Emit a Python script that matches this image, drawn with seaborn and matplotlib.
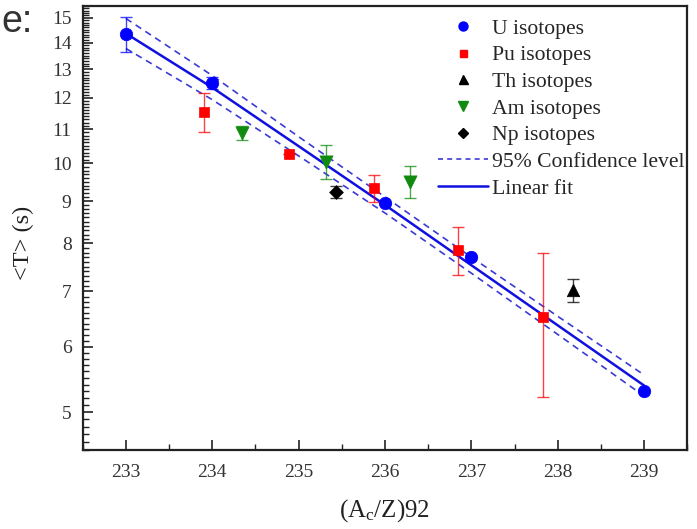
import numpy as np
import pandas as pd
import matplotlib
matplotlib.use("Agg")
import matplotlib.pyplot as plt
import seaborn as sns
from matplotlib.lines import Line2D
from matplotlib.ticker import FixedLocator, NullFormatter, FixedFormatter

# ---- data ----
u_x = [233.0, 234.0, 236.0, 237.0, 239.0]
u_t = [14.35, 12.51, 8.96, 7.71, 5.30]
u_err = [0.70, 0.20, 0.0, 0.0, 0.0]

pu_x = [233.91, 234.89, 235.87, 236.85, 237.83]
pu_t = [11.53, 10.27, 9.33, 7.85, 6.51]
pu_err = [0.62, 0.0, 0.35, 0.53, 1.29]

th_x = [238.18]
th_t = [7.02]
th_err = [0.23]

am_x = [234.35, 235.32, 236.29]
am_t = [10.88, 10.05, 9.50]
am_err = [0.22, 0.48, 0.43]

np_x = [235.43]
np_t = [9.23]
np_err = [0.15]

fit_x = [233, 234, 235, 236, 237, 238, 239]
fit_t = [14.36, 12.35, 10.49, 8.905, 7.529, 6.368, 5.385]
band_up = [14.97, 12.77, 10.77, 9.107, 7.700, 6.530, 5.546]
band_lo = [13.77, 11.94, 10.21, 8.708, 7.364, 6.209, 5.229]

y_ticks = [5, 6, 7, 8, 9, 10, 11, 12, 13, 14, 15]
x_ticks = [233, 234, 235, 236, 237, 238, 239]

# ---- style ----
sns.set_theme(style="ticks")
plt.rcParams["font.family"] = ["Liberation Serif", "DejaVu Serif"]
plt.rcParams["mathtext.fontset"] = "custom"
plt.rcParams["mathtext.rm"] = "Liberation Serif"
plt.rcParams["mathtext.default"] = "regular"

fig = plt.figure(figsize=(6.97, 5.29), dpi=100)
ax = fig.add_axes([82.7 / 697, 1 - 450 / 529, (687.3 - 82.7) / 697, (450 - 6) / 529])
ax.set_yscale("log")

blue = "#0000ff"
red = "#ff0000"
green = "#118a11"
black = "#000000"

series = [
    ("U isotopes", u_x, u_t, u_err, blue, "o", 9),
    ("Pu isotopes", pu_x, pu_t, pu_err, red, "s", 7),
    ("Th isotopes", th_x, th_t, th_err, black, "^", 9),
    ("Am isotopes", am_x, am_t, am_err, green, "v", 9.5),
    ("Np isotopes", np_x, np_t, np_err, black, "D", 7),
]

# fit and confidence band
fit_df = pd.DataFrame({"x": fit_x, "fit": fit_t, "up": band_up, "lo": band_lo})
sns.lineplot(data=fit_df, x="x", y="up", ax=ax, color="#3a3ad6", lw=1.2,
             linestyle=(0, (4, 3)), zorder=2)
sns.lineplot(data=fit_df, x="x", y="lo", ax=ax, color="#3a3ad6", lw=1.2,
             linestyle=(0, (4, 3)), zorder=2)
sns.lineplot(data=fit_df, x="x", y="fit", ax=ax, color="#1010e0", lw=1.8, zorder=3)

handles = []
for name, xs, ts, errs, col, mk, ms in series:
    df = pd.DataFrame({"x": xs, "t": ts, "e": errs})
    ax.errorbar(df["x"], df["t"], yerr=df["e"], fmt="none", ecolor=col, elinewidth=1.0,
                capsize=4, capthick=1.0, alpha=0.75, zorder=4)
    sns.scatterplot(data=df, x="x", y="t", ax=ax, color=col, marker=mk, s=ms ** 2,
                    edgecolor=col, linewidth=0.5, zorder=5, legend=False)
    handles.append(Line2D([], [], color=col, marker=mk, linestyle="none",
                          markersize=ms * 0.72, label=name))

handles.append(Line2D([], [], color="#3a3ad6", lw=1.2, linestyle=(0, (3, 2.5)),
                      label="95% Confidence level"))
handles.append(Line2D([], [], color="#1010e0", lw=1.8, label="Linear fit"))

leg = ax.legend(handles=handles, loc="upper right",
                bbox_to_anchor=((685 - 82.7) / 604.6, (450 - 18.5) / 444),
                frameon=False, fontsize=15.6, handlelength=2.3, handletextpad=0.22,
                labelspacing=0.3, borderaxespad=0.0, borderpad=0.0)

# axes
ax.set_xlim(232.5, 239.5)
ax.set_ylim(4.5, 15.5)
ax.xaxis.set_major_locator(FixedLocator(x_ticks))
ax.xaxis.set_minor_locator(FixedLocator(np.arange(232.5, 239.6, 0.5)))
ax.yaxis.set_major_locator(FixedLocator(y_ticks))
ax.yaxis.set_major_formatter(FixedFormatter([str(v) for v in y_ticks]))
ax.yaxis.set_minor_locator(FixedLocator(np.arange(4.5, 15.51, 0.1)))
ax.yaxis.set_minor_formatter(NullFormatter())
ax.xaxis.set_minor_formatter(NullFormatter())

ax.tick_params(axis="both", which="major", direction="in", length=7, width=1.2,
               labelsize=14, colors="#222222", labelcolor="#333333", pad=8)
ax.tick_params(axis="x", which="major", pad=10)
ax.tick_params(axis="both", which="minor", direction="in", length=4, width=1.0,
               colors="#222222")
ax.tick_params(top=False, right=False)
for s in ax.spines.values():
    s.set_linewidth(1.6)
    s.set_color("#222222")

ax.set_xlabel(r"(A$_c$/Z)92", fontsize=18, color="#222222", labelpad=12)
ax.set_ylabel("<T> (s)", fontsize=17.5, color="#222222")
ax.yaxis.set_label_coords((34 - 82.7) / 604.6, (450 - 243) / 444)

fig.text(1 / 697, 1 - 32 / 529, "e:", ha="left", va="baseline", fontsize=27,
         color="#333333", family="Liberation Sans")

fig.savefig("out.png", dpi=100)
